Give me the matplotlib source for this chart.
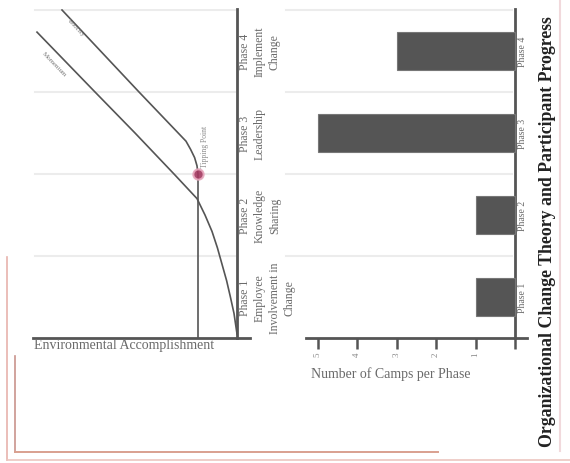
import matplotlib
matplotlib.use("Agg")
import matplotlib.pyplot as plt
from matplotlib.lines import Line2D

# ---------------- data ----------------
phases = [1, 2, 3, 4]
phase_bar_labels = ["Phase 1", "Phase 2", "Phase 3", "Phase 4"]
phase_theory_labels = ["Phase 1\nEmployee\nInvolvement in\nChange",
                       "Phase 2\nKnowledge\nSharing",
                       "Phase 3\nLeadership",
                       "Phase 4\nImplement\nChange"]
camps_per_phase = [1, 1, 5, 3]
count_ticks = [0, 1, 2, 3, 4, 5]
count_tick_labels = ["", "1", "2", "3", "4", "5"]

# curve A (smooth growth), phase position vs accomplishment
curveA_phase = [0.55, 0.8, 1.0, 1.2, 1.4, 1.6, 1.8, 2.0, 2.2, 2.5, 3.0, 3.5, 4.23]
curveA_value = [0.0, 0.15, 0.33, 0.52, 0.75, 0.98, 1.25, 1.6, 2.0, 3.15, 5.1, 7.1, 10.0]
# curve B (flat until tipping point, then growth)
curveB_phase = [0.5, 2.5, 2.6, 2.7, 2.8, 2.9, 3.5, 4.5]
curveB_value = [1.95, 1.95, 2.0, 2.12, 2.32, 2.55, 4.9, 8.75]
tipping_phase = 2.5
tipping_value = 1.95
curveA_label = "Momentum"
curveB_label = "Velocity"

W, H = 570, 464
fig = plt.figure(figsize=(W / 100, H / 100), dpi=100)
fig.patch.set_facecolor("white")

def fx(px):
    return px / W

def fy(py):
    return 1 - py / H

dark = "#555555"
txtc = "#6a6a6a"
gridc = "#ececec"
serif = ["Liberation Serif", "DejaVu Serif"]

# ---------------- theory (line) panel ----------------
ax1 = fig.add_axes([fx(33), fy(339), fx(250) - fx(33), fy(10) - fy(339)])
ax1.set_xlim(10.2, -0.65)
ax1.set_ylim(0.5, 4.512)
for s in ["top", "left"]:
    ax1.spines[s].set_visible(False)
ax1.spines["right"].set_position(("data", 0))
for s in ["right", "bottom"]:
    ax1.spines[s].set_linewidth(2)
    ax1.spines[s].set_color(dark)
ax1.set_xticks([])
ax1.set_yticks([])
ax1.patch.set_alpha(0)

for b in [1.5, 2.5, 3.5, 4.5]:
    ax1.axhline(b, xmin=0.01, xmax=0.93, color=gridc, lw=1.5, zorder=0)

ax1.plot(curveA_value, curveA_phase, color=dark, lw=1.2)
ax1.plot(curveB_value, curveB_phase, color=dark, lw=1.2)
ax1.scatter([tipping_value], [tipping_phase], s=55, color="#a3385f",
            edgecolors="#e7a9be", linewidths=1.5, zorder=5, alpha=0.9)
ax1.text(1.6, 2.585, "Tipping Point", rotation=90, ha="center", va="bottom",
         fontsize=5.5, color="#8a8a8a", family=serif)

ax1.text(8.05, 4.3, curveB_label, rotation=-46.5, ha="center", va="center",
         fontsize=5, color="#777777", family=serif, rotation_mode="anchor")
ax1.text(9.15, 3.85, curveA_label, rotation=-46, ha="center", va="center",
         fontsize=5, color="#777777", family=serif, rotation_mode="anchor")

for p, lab in zip(phases, phase_theory_labels):
    ax1.text(-0.1, p, lab, rotation=90, ha="left", va="center",
             multialignment="center", fontsize=8.5, color=txtc, family=serif,
             linespacing=1.33, clip_on=False)

ax1.text(0.42, 0.0, "Environmental Accomplishment", transform=ax1.transAxes,
         ha="center", va="top", fontsize=10, color=txtc, family=serif)

# ---------------- bar panel ----------------
ax2 = fig.add_axes([fx(306), fy(339), fx(527) - fx(306), fy(10) - fy(339)])
ax2.set_xlim(5.3, -0.305)
ax2.set_ylim(0.5, 4.512)
for s in ["top", "left"]:
    ax2.spines[s].set_visible(False)
ax2.spines["right"].set_position(("data", 0))
for s in ["right", "bottom"]:
    ax2.spines[s].set_linewidth(2)
    ax2.spines[s].set_color(dark)
ax2.patch.set_alpha(0)

for b in [1.5, 2.5, 3.5, 4.5]:
    ax2.axhline(b, xmin=-0.09, xmax=0.93, color=gridc, lw=1.5, zorder=0,
                clip_on=False)

ax2.barh(phases, camps_per_phase, height=0.46, color="#555555",
         edgecolor="#777777", linewidth=0.8, zorder=3)

ax2.set_yticks([])
ax2.set_xticks(count_ticks)
ax2.set_xticklabels(count_tick_labels, family=serif)
ax2.tick_params(axis="x", direction="out", length=8, width=1.8, color=dark,
                labelsize=6.5, labelcolor="#888888", labelrotation=90, pad=2)
ax2.set_xlabel("Number of Camps per Phase", fontsize=10, color=txtc,
               family=serif, labelpad=2)
ax2.xaxis.set_label_coords(0.385, -0.085)

for p, lab in zip(phases, phase_bar_labels):
    ax2.text(-0.2, p, lab, rotation=90, ha="center", va="center",
             fontsize=7, color=txtc, family=serif, clip_on=False)

# ---------------- title and page decorations ----------------
fig.text(fx(548), fy(232), "Organizational Change Theory and Participant Progress",
         rotation=90, ha="center", va="center", fontsize=12.8, fontweight="bold",
         color="#222222", family=serif)

deco = [
    ([fx(560), fx(560)], [fy(0), fy(452)], "#f1d9dc", 1.5),
    ([fx(7), fx(7)], [fy(258), fy(461)], "#e7b3ad", 1.2),
    ([fx(15), fx(15)], [fy(357), fy(453)], "#c9938c", 1.2),
    ([fx(15), fx(438)], [fy(453), fy(453)], "#d9a08f", 1.4),
    ([fx(7), fx(570)], [fy(461), fy(461)], "#ecc6c0", 1.2),
]
for xs, ys, c, lw in deco:
    fig.add_artist(Line2D(xs, ys, transform=fig.transFigure, color=c, lw=lw))

fig.savefig("out.png", dpi=100)
